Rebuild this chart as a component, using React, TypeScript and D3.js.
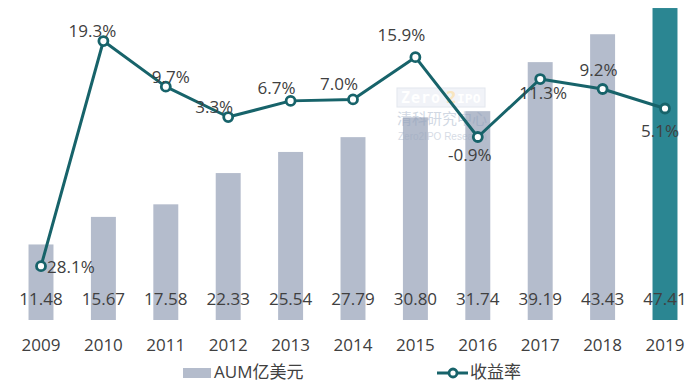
import React from "react";
import * as d3 from "d3";

const years = ["2009", "2010", "2011", "2012", "2013", "2014", "2015", "2016", "2017", "2018", "2019"];
const aum = [11.48, 15.67, 17.58, 22.33, 25.54, 27.79, 30.8, 31.74, 39.19, 43.43, 47.41];
const aumLabels = ["11.48", "15.67", "17.58", "22.33", "25.54", "27.79", "30.80", "31.74", "39.19", "43.43", "47.41"];
const rate = [-28.1, 19.3, 9.7, 3.3, 6.7, 7.0, 15.9, -0.9, 11.3, 9.2, 5.1];
// as printed in the source (the first one has no minus sign there)
const rateLabels = ["28.1%", "19.3%", "9.7%", "3.3%", "6.7%", "7.0%", "15.9%", "-0.9%", "11.3%", "9.2%", "5.1%"];

// label nudges relative to each point [dx, dy, anchor]
const labelPos: [number, number, string][] = [
  [6, 7, "start"],
  [-11, -4, "middle"],
  [5, -4, "middle"],
  [-14, -4, "middle"],
  [-14, -7, "middle"],
  [-14, -9, "middle"],
  [-14, -16, "middle"],
  [-8, 24, "middle"],
  [3, 20, "middle"],
  [-4, -13, "middle"],
  [-5, 29, "middle"],
];

const W = 700;
const H = 384;
const barColor = "#b4bccc";
const lastBar = "#2b8692";
const lineColor = "#17636a";
const textColor = "#404040";
const font = "'Open Sans', 'Noto Sans CJK SC', sans-serif";

export default function App() {
  const x = d3.scaleBand<string>().domain(years).range([9.8, 696.2]).paddingInner(0.6).paddingOuter(0.3);
  const yBar = d3.scaleLinear().domain([0, 50]).range([320, -9]);
  const yRate = d3.scaleLinear().domain([-30, 20]).range([275.2, 37.7]);
  const cx = (d: string) => (x(d) ?? 0) + x.bandwidth() / 2;

  const line = d3
    .line<number>()
    .x((_, i) => cx(years[i]))
    .y((d) => yRate(d));

  return (
    <svg width={W} height={H} style={{ position: "absolute", left: 0, top: 0, background: "#fff" }} fontFamily={font}>
      {aum.map((v, i) => (
        <rect
          key={years[i]}
          x={x(years[i])}
          y={yBar(v)}
          width={x.bandwidth()}
          height={yBar(0) - yBar(v)}
          fill={i === aum.length - 1 ? lastBar : barColor}
        />
      ))}
      {aum.map((v, i) => (
        <text key={"v" + i} x={cx(years[i])} y={305} textAnchor="middle" fontSize={17} fill={textColor}>
          {aumLabels[i]}
        </text>
      ))}
      {years.map((y) => (
        <text key={"y" + y} x={cx(y)} y={351} textAnchor="middle" fontSize={17} fill={textColor}>
          {y}
        </text>
      ))}

      {/* faint watermark */}
      <g opacity={0.4}>
        <rect x={397} y={88} width={88} height={19} fill="#dde3ee" stroke="#b9c3d6" strokeWidth={1} />
        <text x={401} y={103} fontSize={15} fontWeight="bold" fill="#ffffff" fontFamily="'DejaVu Sans Mono', monospace" letterSpacing={1}>
          Zero
        </text>
        <text x={446} y={103} fontSize={15} fontWeight="bold" fill="#f0c060" fontFamily="'DejaVu Sans', sans-serif">
          2
        </text>
        <text x={457} y={103} fontSize={13} fontWeight="bold" fill="#ffffff" fontFamily="'DejaVu Sans Mono', monospace">
          IPO
        </text>
        <text x={397} y={124} fontSize={15} fill="#8d9fbb" fontFamily="'Noto Sans CJK SC', sans-serif">
          清科研究中心
        </text>
        <text x={398} y={140} fontSize={10} fill="#9aa8c0" fontFamily="'Liberation Sans', sans-serif">
          Zero2IPO Research
        </text>
      </g>

      <path d={line(rate) ?? ""} fill="none" stroke={lineColor} strokeWidth={3} strokeLinejoin="round" />
      {rate.map((v, i) => (
        <circle key={"c" + i} cx={cx(years[i])} cy={yRate(v)} r={4.5} fill="#fff" stroke={lineColor} strokeWidth={2.8} />
      ))}
      {rate.map((v, i) => (
        <text
          key={"r" + i}
          x={cx(years[i]) + labelPos[i][0]}
          y={yRate(v) + labelPos[i][1]}
          textAnchor={labelPos[i][2] as any}
          fontSize={17}
          fill={textColor}
        >
          {rateLabels[i]}
        </text>
      ))}

      {/* legend */}
      <rect x={183} y={368} width={28} height={10} fill={barColor} />
      <text x={214} y={378} fontSize={17} fill={textColor}>
        AUM亿美元
      </text>
      <line x1={437} x2={468} y1={373} y2={373} stroke={lineColor} strokeWidth={3} />
      <circle cx={453} cy={373} r={4} fill="#fff" stroke={lineColor} strokeWidth={2.8} />
      <text x={470} y={378} fontSize={17} fill={textColor}>
        收益率
      </text>
    </svg>
  );
}
